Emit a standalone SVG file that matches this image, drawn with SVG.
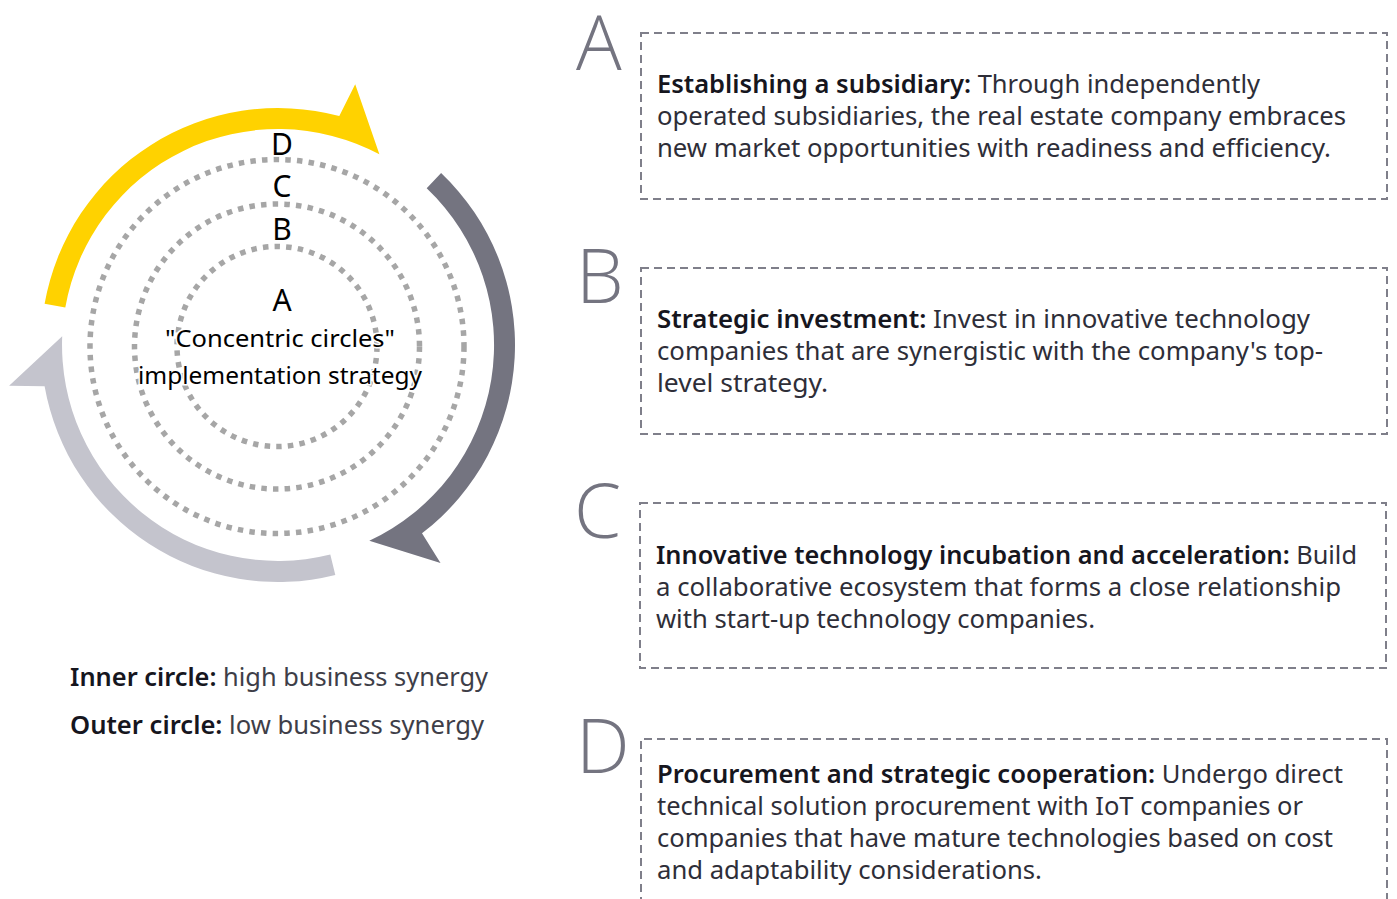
<svg xmlns="http://www.w3.org/2000/svg" width="1397" height="899" viewBox="0 0 1397 899">
<style>
.dot{fill:none;stroke:#a6a6a6;stroke-width:5.5;stroke-dasharray:5.5 6.2}
.box{fill:none;stroke:#7f7f8a;stroke-width:2;stroke-dasharray:8 5}
.big{font-family:"Open Sans","Noto Sans",sans-serif;font-weight:300;font-size:76px;fill:#747480}
.t{font-family:"Noto Sans","Liberation Sans",sans-serif;font-size:25px;fill:#2e2e38}
.b{font-weight:600;fill:#16161e}
.lbl{font-family:"Noto Sans","Liberation Sans",sans-serif;font-size:30px;fill:#000;text-anchor:middle;stroke:#fff;stroke-width:3;paint-order:stroke}
.ctr{font-family:"Noto Sans","Liberation Sans",sans-serif;font-size:24px;fill:#000;text-anchor:middle;stroke:#fff;stroke-width:3;paint-order:stroke}
.lg{font-family:"Noto Sans","Liberation Sans",sans-serif;font-size:26px;fill:#3e3e48}
</style>
<rect width="1397" height="899" fill="#fff"/>
<g id="connectors">
<path id="arc-yellow" fill="#ffd200" d="M 44.6 303.8 A 237 237 0 0 1 339.3 116.1 L 355.2 84.2 L 379.4 154.3 A 216 216 0 0 0 65.3 307.5 Z"/>
<path id="arc-dark" fill="#747480" d="M 441.1 173.1 A 237 237 0 0 1 422.0 533.3 L 440.5 563.1 L 369.3 540.8 A 216 216 0 0 0 426.7 188.3 Z"/>
<path id="arc-light" fill="#c4c4cd" d="M 335.3 575.0 A 237 237 0 0 1 44.6 386.2 L 9.1 385.7 L 62.2 336.3 A 216 216 0 0 0 330.3 554.6 Z"/>
</g>
<g id="circles">
<circle class="dot" cx="277" cy="346.5" r="187"/>
<circle class="dot" cx="277" cy="346.5" r="142.5"/>
<circle class="dot" cx="277" cy="346.5" r="100"/>
</g>
<g id="circle-labels">
<text class="lbl" x="282" y="155">D</text>
<text class="lbl" x="282" y="197">C</text>
<text class="lbl" x="282" y="240">B</text>
<text class="lbl" x="282" y="311">A</text>
<text class="ctr" x="280" y="347" textLength="230" lengthAdjust="spacingAndGlyphs">"Concentric circles"</text>
<text class="ctr" x="280" y="384" textLength="284" lengthAdjust="spacingAndGlyphs">implementation strategy</text>
</g>
<g id="legend">
<text class="lg" x="70" y="686" textLength="418" lengthAdjust="spacingAndGlyphs"><tspan class="b" fill="#2e2e38">Inner circle:</tspan> high business synergy</text>
<text class="lg" x="70" y="734" textLength="414" lengthAdjust="spacingAndGlyphs"><tspan class="b" fill="#2e2e38">Outer circle:</tspan> low business synergy</text>
</g>
<g id="node-A">
<text class="big" x="576" y="70">A</text>
<rect class="box" x="641" y="33" width="746" height="166"/>
<text class="t" x="657" y="93" textLength="603" lengthAdjust="spacingAndGlyphs"><tspan class="b">Establishing a subsidiary:</tspan> Through independently</text>
<text class="t" x="657" y="125" textLength="689" lengthAdjust="spacingAndGlyphs">operated subsidiaries, the real estate company embraces</text>
<text class="t" x="657" y="157" textLength="674" lengthAdjust="spacingAndGlyphs">new market opportunities with readiness and efficiency.</text>
</g>
<g id="node-B">
<text class="big" x="576" y="303">B</text>
<rect class="box" x="641" y="268" width="746" height="166"/>
<text class="t" x="657" y="328" textLength="653" lengthAdjust="spacingAndGlyphs"><tspan class="b">Strategic investment:</tspan> Invest in innovative technology</text>
<text class="t" x="657" y="360" textLength="666" lengthAdjust="spacingAndGlyphs">companies that are synergistic with the company's top-</text>
<text class="t" x="657" y="392" textLength="171" lengthAdjust="spacingAndGlyphs">level strategy.</text>
</g>
<g id="node-C">
<text class="big" x="574" y="538">C</text>
<rect class="box" x="640" y="503" width="746" height="165"/>
<text class="t" x="656" y="564" textLength="701" lengthAdjust="spacingAndGlyphs"><tspan class="b">Innovative technology incubation and acceleration:</tspan> Build</text>
<text class="t" x="656" y="596" textLength="685" lengthAdjust="spacingAndGlyphs">a collaborative ecosystem that forms a close relationship</text>
<text class="t" x="656" y="628" textLength="439" lengthAdjust="spacingAndGlyphs">with start-up technology companies.</text>
</g>
<g id="node-D">
<text class="big" x="576" y="773">D</text>
<path class="box" d="M 641 905 V 739 H 1387 V 905"/>
<text class="t" x="657" y="783" textLength="686" lengthAdjust="spacingAndGlyphs"><tspan class="b">Procurement and strategic cooperation:</tspan> Undergo direct</text>
<text class="t" x="657" y="815" textLength="646" lengthAdjust="spacingAndGlyphs">technical solution procurement with IoT companies or</text>
<text class="t" x="657" y="847" textLength="676" lengthAdjust="spacingAndGlyphs">companies that have mature technologies based on cost</text>
<text class="t" x="657" y="879" textLength="385" lengthAdjust="spacingAndGlyphs">and adaptability considerations.</text>
</g>
</svg>
